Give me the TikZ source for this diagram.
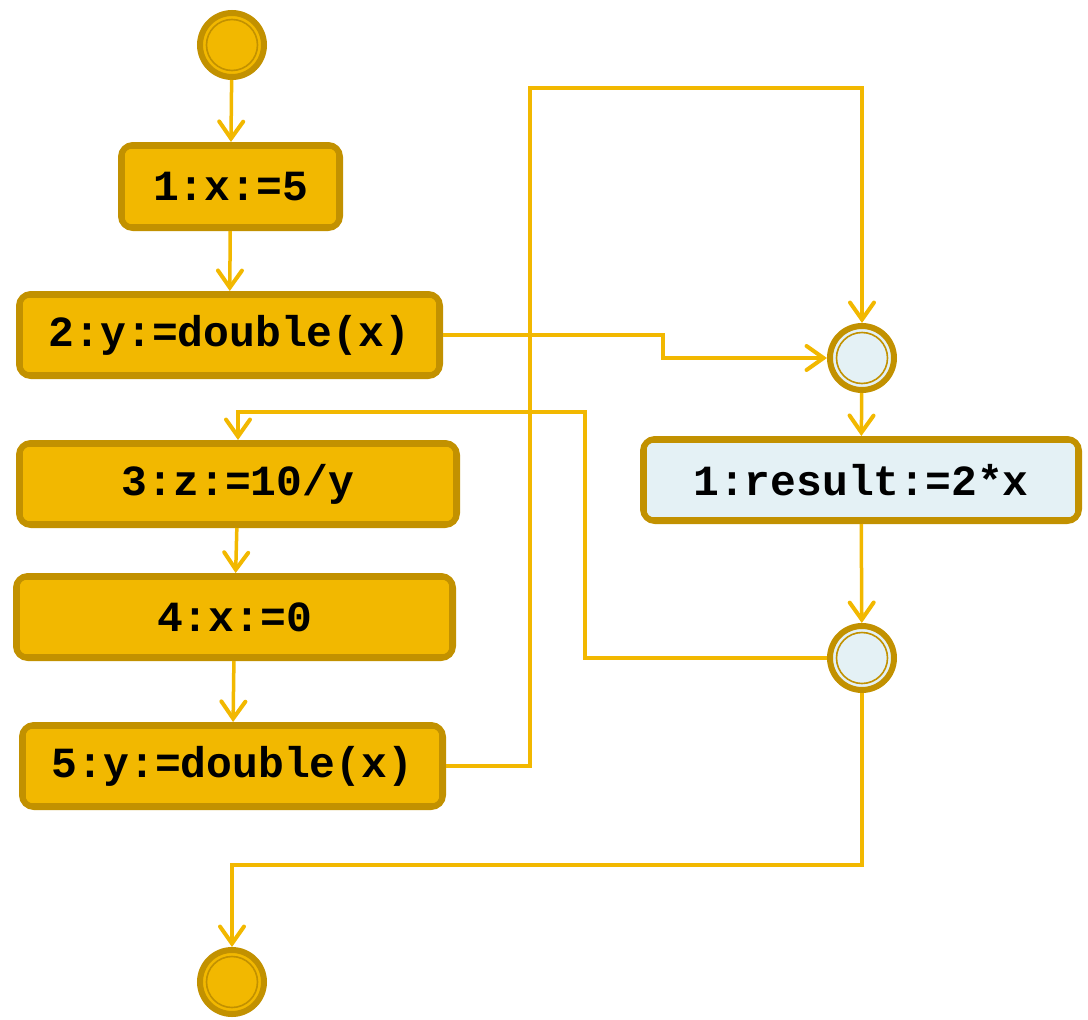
\documentclass[tikz,border=0pt]{standalone}
\usepackage{fontspec}
\setmainfont{Liberation Mono}
\usetikzlibrary{arrows.meta}
\definecolor{gold}{HTML}{F2B800}
\definecolor{dgold}{HTML}{C29100}
\definecolor{lblue}{HTML}{E4F1F5}
\tikzset{
  stepbox/.style={draw=dgold, line width=6pt, fill=gold, rounded corners=12pt, inner sep=0pt, outer sep=3pt,
    font=\fontsize{43}{50}\selectfont\bfseries, text=black},
  actbox/.style={stepbox, fill=lblue},
  dot/.style={circle, draw=dgold, line width=6pt, fill=gold, minimum size=64pt, inner sep=0pt, outer sep=3pt},
  lightdot/.style={dot, fill=lblue},
  innerline/.style={draw=dgold, line width=1.6pt, rounded corners=7pt},
  conn/.style={draw=gold, line width=3.5pt, -{Straight Barb[length=17pt, width=24pt, line width=4pt, line cap=round]}},
  seg/.style={draw=gold, line width=3.5pt}
}
\newcommand{\innerbox}[1]{\draw[innerline] ([shift={(6pt,6pt)}]#1.south west) rectangle ([shift={(-6pt,-6pt)}]#1.north east);}
\newcommand{\innerdot}[1]{\draw[dgold, line width=1.6pt] (#1.center) circle (25.5pt);}
\begin{document}
\begin{tikzpicture}[x=1pt, y=-1pt]
\useasboundingbox (0,0) rectangle (1088,1020);
% nodes
\node[dot] (start) at (232,45) {};
\node[stepbox, minimum width=219pt, minimum height=83pt] (b1) at (230.5,186.5) {1:x:=5};
\node[stepbox, minimum width=421pt, minimum height=82pt] (b2) at (229.5,335) {2:y:=double(x)};
\node[stepbox, minimum width=438pt, minimum height=82pt] (b3) at (238,484) {3:z:=10/y};
\node[stepbox, minimum width=437pt, minimum height=82pt] (b4) at (234.5,617) {4:x:=0};
\node[stepbox, minimum width=421pt, minimum height=82pt] (b5) at (232.5,766) {5:y:=double(x)};
\node[dot] (end) at (232,982) {};
\node[lightdot] (cA) at (862,358) {};
\node[actbox, minimum width=436pt, minimum height=82pt] (R) at (861,480) {1:result:=2*x};
\node[lightdot] (cB) at (862,658) {};
\innerbox{b1}\innerbox{b2}\innerbox{b3}\innerbox{b4}\innerbox{b5}\innerbox{R}
\innerdot{start}\innerdot{end}\innerdot{cA}\innerdot{cB}
% bend points
\coordinate (k1) at (663,335);
\coordinate (k2) at (530,88);
\coordinate (k3) at (585,412);
\coordinate (k4) at (232,865);
% connectors
\draw[conn] (start) -- (b1);
\draw[conn] (b1) -- (b2);
\draw[conn] (b2.east) -- (k1) |- (cA.west);
\draw[conn] (b3) -- (b4);
\draw[conn] (b4) -- (b5);
\draw[conn] (b5.east) -| (k2) -| (cA.north);
\draw[conn] (cA) -- (R);
\draw[conn] (R) -- (cB);
\draw[conn] (cB.west) -| (k3) -| (b3.north);
\draw[conn] (cB.south) |- (k4) -- (end.north);
\end{tikzpicture}
\end{document}
